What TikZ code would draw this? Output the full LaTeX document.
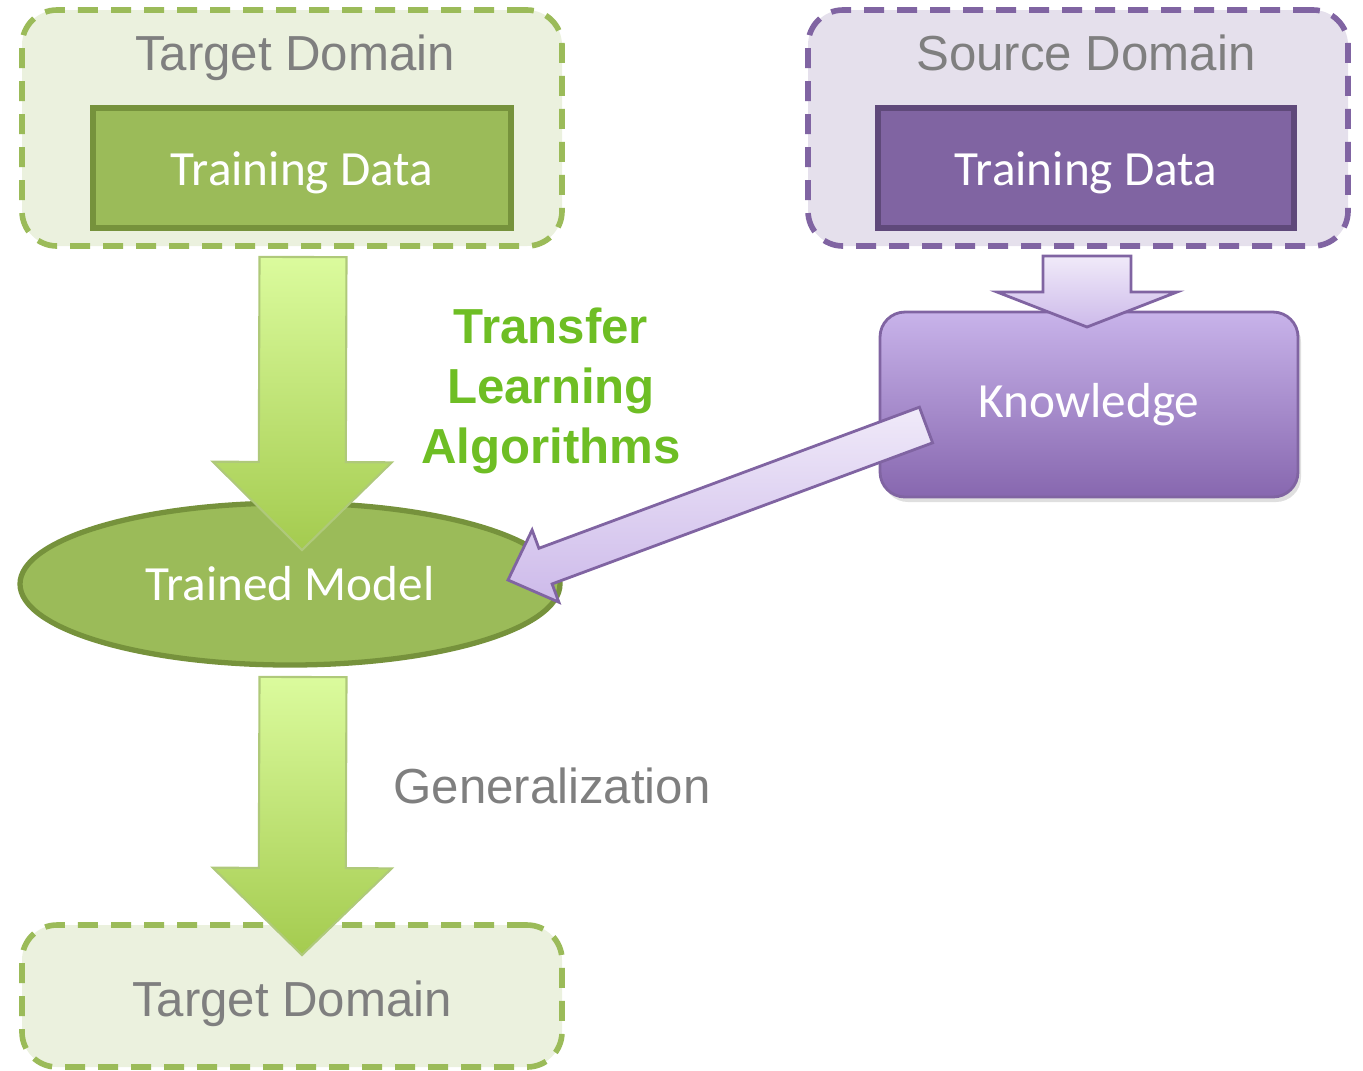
\documentclass[tikz,border=0pt]{standalone}
\usepackage{fontspec}
\setmainfont{Liberation Sans}
\newfontfamily\calibri{Carlito}
\usepackage{tikz}
\usetikzlibrary{calc,shadows,shapes.geometric}

\definecolor{tgtfill}{HTML}{EBF1DE}
\definecolor{tgtline}{HTML}{9BBB59}
\definecolor{tgtdark}{HTML}{76923C}
\definecolor{srcfill}{HTML}{E5E0EC}
\definecolor{srcline}{HTML}{8064A2}
\definecolor{srcdark}{HTML}{5F497A}
\definecolor{titlegray}{HTML}{7F7F7F}
\definecolor{algogreen}{HTML}{6EBE24}
\definecolor{arrowtop}{HTML}{DBFB9D}
\definecolor{arrowbot}{HTML}{A4CB4F}
\definecolor{lavtop}{HTML}{F0EAF9}
\definecolor{lavbot}{HTML}{CDBAEA}
\definecolor{knowtop}{HTML}{C8B3EA}
\definecolor{knowmid}{HTML}{B79EDD}
\definecolor{knowbot}{HTML}{8767AF}

% block arrow: style, from, to, half shaft, half head, head length
\newcommand{\fatarrow}[6]{
  \coordinate (hb) at ($(#3)!#6!(#2)$);
  \draw[#1] ($(#2)!#4!90:(#3)$) -- ($(hb)!#4!90:(#3)$) -- ($(hb)!#5!90:(#3)$)
    -- (#3) -- ($(hb)!#5!-90:(#3)$) -- ($(hb)!#4!-90:(#3)$) -- ($(#2)!#4!-90:(#3)$) -- cycle;
}

\begin{document}
\begin{tikzpicture}[
		domainbox/.style={rectangle, rounded corners=0.35cm, line width=1.6pt, dash pattern=on 0.2cm off 0.13cm},
		databox/.style={rectangle, line width=1.5pt, minimum width=4.18cm, minimum height=1.2cm, text height=10pt, text depth=0pt,
			text=white, font=\calibri\fontsize{14}{17}\selectfont},
		titletext/.style={anchor=base, text=titlegray, font=\fontsize{14}{17}\selectfont},
		greenarrow/.style={draw=tgtline!80!white, line width=0.6pt, top color=arrowtop, bottom color=arrowbot},
		purplearrow/.style={draw=srcline, line width=0.8pt, top color=lavtop, bottom color=lavbot}
	]
  \useasboundingbox (0cm, 0cm) rectangle (13.63cm, -10.70cm);

  % target domain
  \node (tgt_box) [domainbox, draw=tgtline, fill=tgtfill, minimum width=5.4cm, minimum height=2.36cm] at (2.92cm, -1.28cm) {};
  \node (tgt_title) [titletext] at (2.95cm, -0.70cm) {Target Domain};
  \node (tgt_data) [databox, draw=tgtdark, fill=tgtline] at (3.02cm, -1.68cm) {Training Data};

  % source domain
  \node (src_box) [domainbox, draw=srcline, fill=srcfill, minimum width=5.4cm, minimum height=2.36cm] at (10.78cm, -1.28cm) {};
  \node (src_title) [titletext] at (10.86cm, -0.70cm) {Source Domain};
  \node (src_data) [databox, draw=srcdark, fill=srcline, minimum width=4.16cm] at (10.86cm, -1.68cm) {Training Data};

  \node (knowledge) [rectangle, rounded corners=0.25cm, draw=srcline, line width=0.8pt,
    top color=knowtop, middle color=knowmid, bottom color=knowbot,
    drop shadow={opacity=0.25, shadow xshift=0.03cm, shadow yshift=-0.05cm},
    minimum width=4.18cm, minimum height=1.85cm, text=white, font=\calibri\fontsize{14}{17}\selectfont] at (10.89cm, -4.045cm) {Knowledge};

  \node (model) [ellipse, draw=tgtdark, fill=tgtline, line width=1.5pt, minimum width=5.4cm, minimum height=1.62cm,
    text=white, font=\calibri\fontsize{14}{17}\selectfont] at (2.90cm, -5.84cm) {Trained Model};

  \node (transfer) [text=algogreen, align=center, font=\bfseries\fontsize{14}{17}\selectfont] at (5.51cm, -3.91cm) {Transfer\\Learning\\Algorithms};
  \node (general) [titletext] at (5.52cm, -8.03cm) {Generalization};

  \node (tgt_box2) [domainbox, draw=tgtline, fill=tgtfill, minimum width=5.4cm, minimum height=1.42cm,
    text height=11.4pt, text depth=0pt, text=titlegray, font=\fontsize{14}{17}\selectfont] at (2.92cm, -9.96cm) {Target Domain};

  % arrow ends
  \coordinate (train_from) at (3.03cm, -2.57cm);
  \coordinate (train_to) at (3.02cm, -5.50cm);
  \coordinate (gen_from) at (3.03cm, -6.77cm);
  \coordinate (gen_to) at (3.02cm, -9.55cm);
  \coordinate (learn_from) at (10.87cm, -2.56cm);
  \coordinate (learn_to) at (10.87cm, -3.27cm);
  \coordinate (know_from) at (9.26cm, -4.25cm);
  \coordinate (know_to) at (5.08cm, -5.80cm);

  \fatarrow{greenarrow}{train_from}{train_to}{0.435cm}{0.895cm}{0.88cm}
  \fatarrow{greenarrow}{gen_from}{gen_to}{0.435cm}{0.895cm}{0.87cm}
  \fatarrow{purplearrow}{learn_from}{learn_to}{0.44cm}{0.9cm}{0.35cm}
  \fatarrow{purplearrow}{know_from}{know_to}{0.19cm}{0.385cm}{0.40cm}
\end{tikzpicture}
\end{document}
